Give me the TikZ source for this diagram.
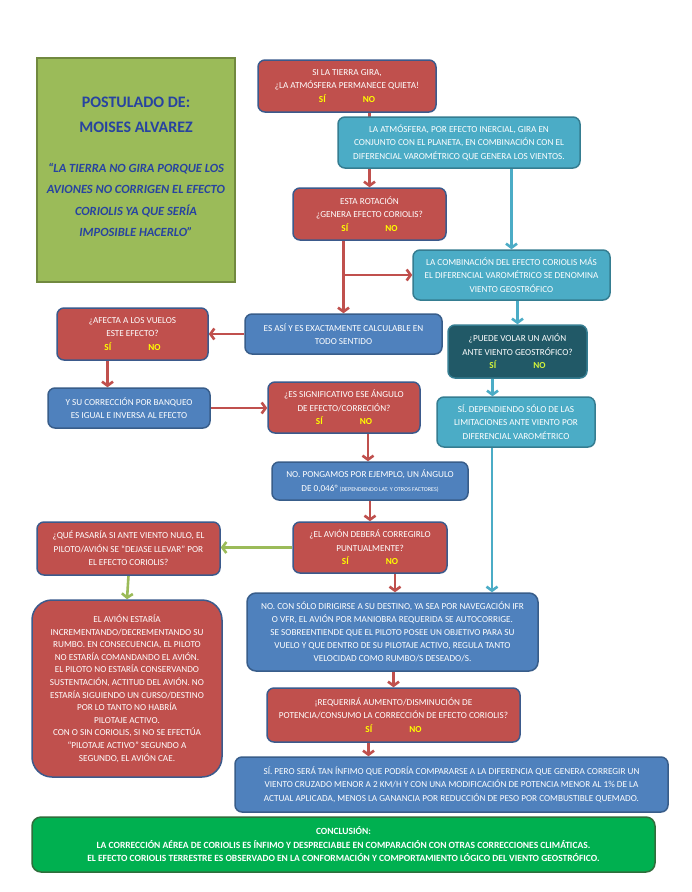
\documentclass[tikz,border=0pt]{standalone}
\usepackage{fontspec}
\setmainfont{Carlito}
\usetikzlibrary{arrows.meta}
\pgfdeclarelayer{bg}
\pgfsetlayers{bg,main}
\definecolor{rfill}{HTML}{C0504D}
\definecolor{rline}{HTML}{3B5A8C}
\definecolor{tfill}{HTML}{4BACC6}
\definecolor{tline}{HTML}{357D91}
\definecolor{bfill}{HTML}{4F81BD}
\definecolor{bline}{HTML}{385D8A}
\definecolor{dfill}{HTML}{215967}
\definecolor{gfill}{HTML}{9BBB59}
\definecolor{gline}{HTML}{71893F}
\definecolor{cfill}{HTML}{00B050}
\definecolor{cline}{HTML}{2F6E3B}
\definecolor{yn}{HTML}{FFFF00}
\definecolor{ynf}{HTML}{D4F53A}
\definecolor{titleblue}{HTML}{2743A0}
\newcommand{\sino}{{\bfseries\color{yn}SÍ\hspace{37pt}NO}}
\newcommand{\sinof}{{\bfseries\color{ynf}SÍ\hspace{37pt}NO}}
\tikzset{
  box/.style={rectangle, rounded corners=7pt, line width=1.5pt, text=white,
    align=center, inner sep=0pt, font=\fontsize{9.2}{13.5}\selectfont},
  redbox/.style={box, fill=rfill, draw=rline},
  tealbox/.style={box, fill=tfill, draw=tline},
  bluebox/.style={box, fill=bfill, draw=bline},
  darkbox/.style={box, fill=dfill, draw=tline},
  postbox/.style={rectangle, fill=gfill, draw=gline, line width=1.5pt},
  conbox/.style={box, rounded corners=9pt, fill=cfill, draw=cline, font=\fontsize{9.5}{13.5}\selectfont\bfseries},
  conn/.style={line width=2.6pt, -{Straight Barb[length=4pt,width=11pt]}},
  redc/.style={conn, draw=rfill},
  tealc/.style={conn, draw=tfill},
  greenc/.style={conn, draw=gfill},
  titletext/.style={text=titleblue, font=\fontsize{16}{18}\selectfont\bfseries},
  quotetext/.style={text=titleblue, align=center, font=\fontsize{12.5}{21.5}\selectfont\bfseries\itshape}
}
\begin{document}
\begin{tikzpicture}[x=1pt,y=-1pt]
\begin{pgfonlayer}{bg}
\fill[white] (0,0) rectangle (692,892);
\end{pgfonlayer}
\useasboundingbox (0,0) rectangle (692,892);

% postulado
\node[postbox, minimum width=198, minimum height=224] (post) at (136,170) {};
\node[titletext] (t1) at (136,102) {POSTULADO DE:};
\node[titletext] (t2) at (136,127) {MOISES ALVAREZ};
\node[quotetext] (quote) at (136,200) {“LA TIERRA NO GIRA PORQUE LOS\\AVIONES NO CORRIGEN EL EFECTO\\CORIOLIS YA QUE SERÍA\\IMPOSIBLE HACERLO”};

% boxes
\node[redbox, minimum width=178, minimum height=52] (A) at (347,86)
  {SI LA TIERRA GIRA,\\¿LA ATMÓSFERA PERMANECE QUIETA!\\\sino};
\node[tealbox, minimum width=242, minimum height=51] (B) at (459,142.5)
  {LA ATMÓSFERA, POR EFECTO INERCIAL, GIRA EN\\CONJUNTO CON EL PLANETA, EN COMBINACIÓN CON EL\\DIFERENCIAL VAROMÉTRICO QUE GENERA LOS VIENTOS.};
\node[redbox, minimum width=153, minimum height=52] (C) at (369.5,214)
  {ESTA ROTACIÓN\\¿GENERA EFECTO CORIOLIS?\\\sino};
\node[tealbox, minimum width=197, minimum height=50] (D) at (511.5,275)
  {LA COMBINACIÓN DEL EFECTO CORIOLIS MÁS\\EL DIFERENCIAL VAROMÉTRICO SE DENOMINA\\VIENTO GEOSTRÓFICO};
\node[bluebox, minimum width=197, minimum height=40] (E) at (343.5,334)
  {ES ASÍ Y ES EXACTAMENTE CALCULABLE EN\\TODO SENTIDO};
\node[redbox, minimum width=151, minimum height=52] (G) at (132.5,334)
  {¿AFECTA A LOS VUELOS\\ESTE EFECTO?\\\sino};
\node[darkbox, minimum width=139, minimum height=53] (F) at (517.5,351.5)
  {¿PUEDE VOLAR UN AVIÓN\\ANTE VIENTO GEOSTRÓFICO?\\\sinof};
\node[tealbox, minimum width=158, minimum height=50] (I) at (516,422)
  {SÍ. DEPENDIENDO SÓLO DE LAS\\LIMITACIONES ANTE VIENTO POR\\DIFERENCIAL VAROMÉTRICO};
\node[bluebox, minimum width=162, minimum height=40] (H) at (129,408)
  {Y SU CORRECCIÓN POR BANQUEO\\ES IGUAL E INVERSA AL EFECTO};
\node[redbox, minimum width=152, minimum height=51] (J) at (344,407.5)
  {¿ES SIGNIFICATIVO ESE ÁNGULO\\DE EFECTO/CORRECIÓN?\\\sino};
\node[bluebox, minimum width=196, minimum height=38] (L) at (370,481)
  {NO. PONGAMOS POR EJEMPLO, UN ÁNGULO\\DE 0,046° {\fontsize{6}{6}\selectfont (DEPENDIENDO LAT. Y OTROS FACTORES)}};
\node[redbox, minimum width=154, minimum height=51] (M) at (370,547.5)
  {¿EL AVIÓN DEBERÁ CORREGIRLO\\PUNTUALMENTE?\\\sino};
\node[redbox, minimum width=183, minimum height=53] (N) at (128.5,548.5)
  {¿QUÉ PASARÍA SI ANTE VIENTO NULO, EL\\PILOTO/AVIÓN SE “DEJASE LLEVAR” POR\\EL EFECTO CORIOLIS?};
\node[redbox, rounded corners=20pt, minimum width=190, minimum height=177,
  font=\fontsize{9.2}{12.6}\selectfont] (O) at (127,688.5)
  {EL AVIÓN ESTARÍA\\INCREMENTANDO/DECREMENTANDO SU\\RUMBO. EN CONSECUENCIA, EL PILOTO\\NO ESTARÍA COMANDANDO EL AVIÓN.\\EL PILOTO NO ESTARÍA CONSERVANDO\\SUSTENTACIÓN, ACTITUD DEL AVIÓN. NO\\ESTARÍA SIGUIENDO UN CURSO/DESTINO\\POR LO TANTO NO HABRÍA\\PILOTAJE ACTIVO.\\CON O SIN CORIOLIS, SI NO SE EFECTÚA\\“PILOTAJE ACTIVO” SEGUNDO A\\SEGUNDO, EL AVIÓN CAE.};
\node[bluebox, rounded corners=9pt, minimum width=291, minimum height=78,
  font=\fontsize{9.2}{13}\selectfont] (K) at (392.5,632)
  {NO. CON SÓLO DIRIGIRSE A SU DESTINO, YA SEA POR NAVEGACIÓN IFR\\O VFR, EL AVIÓN POR MANIOBRA REQUERIDA SE AUTOCORRIGE.\\SE SOBREENTIENDE QUE EL PILOTO POSEE UN OBJETIVO PARA SU\\VUELO Y QUE DENTRO DE SU PILOTAJE ACTIVO, REGULA TANTO\\VELOCIDAD COMO RUMBO/S DESEADO/S.};
\node[redbox, minimum width=253, minimum height=54] (P) at (393.5,715)
  {¡REQUERIRÁ AUMENTO/DISMINUCIÓN DE\\POTENCIA/CONSUMO LA CORRECCIÓN DE EFECTO CORIOLIS?\\\sino};
\node[bluebox, minimum width=433, minimum height=55] (Q) at (451.5,784.5)
  {SÍ. PERO SERÁ TAN ÍNFIMO QUE PODRÍA COMPARARSE A LA DIFERENCIA QUE GENERA CORREGIR UN\\VIENTO CRUZADO MENOR A 2 KM/H Y CON UNA MODIFICACIÓN DE POTENCIA MENOR AL 1\% DE LA\\ACTUAL APLICADA, MENOS LA GANANCIA POR REDUCCIÓN DE PESO POR COMBUSTIBLE QUEMADO.};
\node[conbox, minimum width=623, minimum height=55] (Z) at (343.5,844.5)
  {CONCLUSIÓN:\\LA CORRECCIÓN AÉREA DE CORIOLIS ES ÍNFIMO Y DESPRECIABLE EN COMPARACIÓN CON OTRAS CORRECCIONES CLIMÁTICAS.\\EL EFECTO CORIOLIS TERRESTRE ES OBSERVADO EN LA CONFORMACIÓN Y COMPORTAMIENTO LÓGICO DEL VIENTO GEOSTRÓFICO.};

% connector anchors
\coordinate (g1) at ([xshift=-25pt]G.south);
\coordinate (f1) at ([xshift=-25pt]F.south);
\coordinate (i1) at ([xshift=-24pt]I.south);
\coordinate (j1) at ([xshift=24pt]J.south);
\coordinate (m1) at ([xshift=25pt]M.south);
\coordinate (p1) at ([xshift=-25pt]P.south);

\begin{pgfonlayer}{bg}
\draw[redc] (C.north |- A.south) -- (C.north);
\draw[tealc] (D.north |- B.south) -- (D.north);
\draw[redc] (E.north |- C.south) -- (E.north);
\draw[redc] (E.north |- D.west) -- (D.west);
\draw[tealc] (F.north |- D.south) -- (F.north);
\draw[redc] (E.west) -- (G.east |- E.west);
\draw[redc] (g1) -- (g1 |- H.north);
\draw[redc] (H.east) -- (J.west |- H.east);
\draw[tealc] (f1) -- (f1 |- I.north);
\draw[tealc] (i1) -- (i1 |- K.north);
\draw[redc] (j1) -- (j1 |- L.north);
\draw[redc] (L.south) -- (M.north);
\draw[greenc] (M.west) -- (N.east |- M.west);
\draw[greenc] (N.south) -- (O.north);
\draw[redc] (m1) -- (m1 |- K.north);
\draw[redc] (P.north |- K.south) -- (P.north);
\draw[redc] (p1) -- (p1 |- Q.north);
\end{pgfonlayer}
\end{tikzpicture}
\end{document}
